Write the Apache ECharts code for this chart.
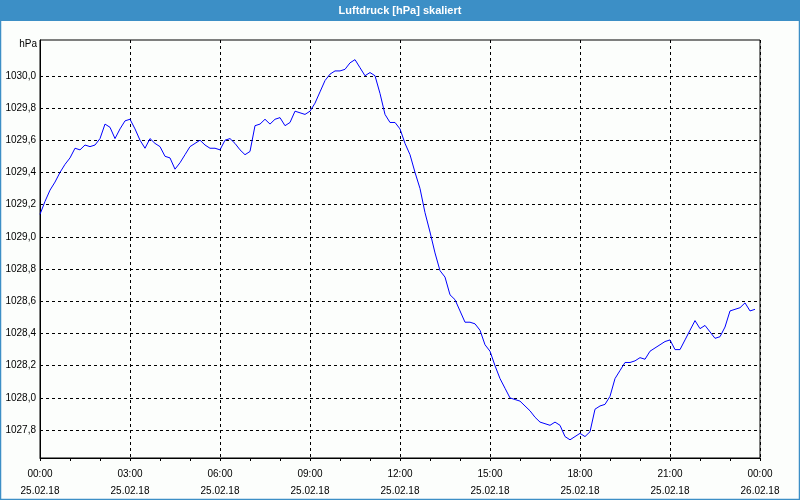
<!DOCTYPE html>
<html>
<head>
<meta charset="utf-8">
<script src="https://cdn.jsdelivr.net/npm/echarts@6/dist/echarts.min.js"></script>
<style>
html,body{margin:0;padding:0;background:#fcfefc;}
#c{width:800px;height:500px;}
</style>
</head>
<body>
<div id="c"></div>
<script>
// Luftdruck, 10-minute readings from 25.02.18 00:00 to 23:50
const startMinute = 0;
const stepMinutes = 10;
const pressure = [
 1029.14,1029.22,1029.29,1029.34,1029.40,1029.45,1029.49,1029.55,1029.54,1029.57,
 1029.56,1029.57,1029.61,1029.70,1029.68,1029.61,1029.67,1029.72,1029.73,1029.67,
 1029.60,1029.55,1029.61,1029.58,1029.56,1029.50,1029.49,1029.42,1029.46,1029.51,
 1029.56,1029.58,1029.60,1029.57,1029.55,1029.55,1029.54,1029.60,1029.61,1029.58,
 1029.54,1029.51,1029.53,1029.69,1029.70,1029.73,1029.70,1029.73,1029.74,1029.69,
 1029.71,1029.78,1029.77,1029.76,1029.78,1029.83,1029.90,1029.97,1030.01,1030.03,
 1030.03,1030.04,1030.08,1030.10,1030.05,1030.00,1030.02,1030.00,1029.89,1029.76,
 1029.71,1029.71,1029.67,1029.58,1029.51,1029.40,1029.30,1029.15,1029.03,1028.90,
 1028.79,1028.75,1028.64,1028.61,1028.54,1028.47,1028.47,1028.46,1028.42,1028.33,
 1028.29,1028.20,1028.12,1028.06,1028.00,1027.99,1027.98,1027.95,1027.92,1027.88,
 1027.85,1027.84,1027.83,1027.85,1027.83,1027.76,1027.74,1027.76,1027.78,1027.76,
 1027.79,1027.93,1027.95,1027.96,1028.01,1028.12,1028.17,1028.22,1028.22,1028.23,
 1028.25,1028.24,1028.29,1028.31,1028.33,1028.35,1028.36,1028.30,1028.30,1028.36,
 1028.42,1028.48,1028.43,1028.45,1028.41,1028.37,1028.38,1028.44,1028.54,1028.55,
 1028.56,1028.59,1028.54,1028.55
];
const yTicks = [1027.8,1028.0,1028.2,1028.4,1028.6,1028.8,1029.0,1029.2,1029.4,1029.6,1029.8,1030.0];
const xTickLabels = {
 0:'00:00\n25.02.18',180:'03:00\n25.02.18',360:'06:00\n25.02.18',540:'09:00\n25.02.18',
 720:'12:00\n25.02.18',900:'15:00\n25.02.18',1080:'18:00\n25.02.18',1260:'21:00\n25.02.18',
 1440:'00:00\n26.02.18'
};
const titleText = 'Luftdruck [hPa] skaliert';
const unitText = 'hPa';

const seriesData = pressure.map((v,i)=>[startMinute + i*stepMinutes, v]);
const FONT = 'Liberation Sans';

const chart = echarts.init(document.getElementById('c'), null, {renderer:'canvas'});
chart.setOption({
  backgroundColor:'#fcfefc',
  animation:false,
  grid:{left:40,right:40,top:40,bottom:40,show:true,borderColor:'#000',borderWidth:1,backgroundColor:'transparent'},
  graphic:[
    {type:'rect',shape:{x:0,y:0,width:800,height:21},style:{fill:'#3c8fc6'},z:0},
    {type:'rect',shape:{x:0.5,y:0.5,width:799,height:499},style:{fill:'none',stroke:'#3c8fc6',lineWidth:1.5},z:0},
    {type:'text',x:400,y:10.5,style:{text:titleText,fill:'#ffffff',font:'bold 11px '+FONT,align:'center',verticalAlign:'middle'},z:1},
    {type:'text',x:37,y:44.5,style:{text:unitText,fill:'#000',font:'10px '+FONT,align:'right',verticalAlign:'middle'},z:1}
  ],
  xAxis:{
    type:'value',min:0,max:1440,interval:180,
    axisLine:{show:true,lineStyle:{color:'#000',width:1}},
    axisTick:{show:true,length:3,lineStyle:{color:'#000'}},
    minorTick:{show:true,splitNumber:3,length:3,lineStyle:{color:'#000'}},
    splitLine:{show:true,lineStyle:{color:'#000',type:[3,3],width:1}},
    axisLabel:{color:'#000',fontFamily:FONT,fontSize:10,lineHeight:17,margin:8,
      formatter:v=>xTickLabels[v]||''}
  },
  yAxis:{
    type:'value',min:1027.627,max:1030.222,
    axisLine:{show:true,lineStyle:{color:'#000',width:1}},
    axisTick:{show:false,customValues:yTicks},
    splitLine:{show:true,lineStyle:{color:'#000',type:[3,3],width:1}},
    axisLabel:{color:'#000',fontFamily:FONT,fontSize:10,margin:4,customValues:yTicks,
      formatter:v=>v.toFixed(1).replace('.',',')}
  },
  series:[{
    type:'line',data:seriesData,showSymbol:false,symbol:'none',
    lineStyle:{color:'#0000ff',width:1},
    z:3
  }]
});
</script>
</body>
</html>
